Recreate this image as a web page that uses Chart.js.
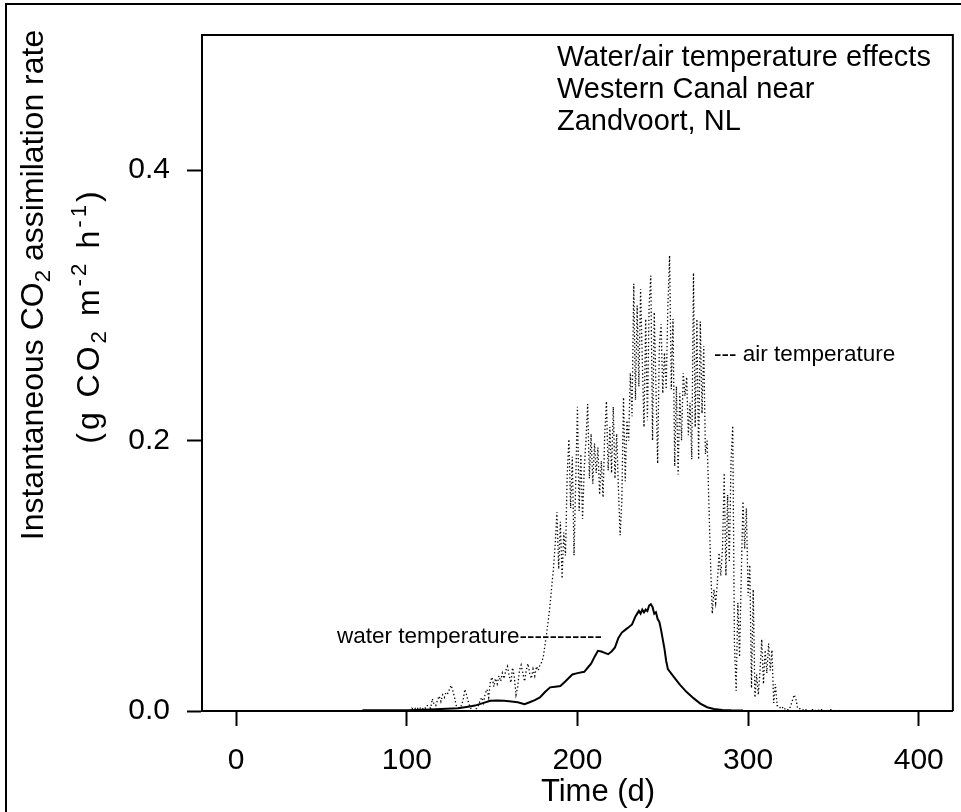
<!DOCTYPE html>
<html>
<head>
<meta charset="utf-8">
<script src="https://cdn.jsdelivr.net/npm/chart.js@4.4.1/dist/chart.umd.min.js"></script>
<style>
    html, body { margin: 0; padding: 0; background: #fff; }
    #wrap { width: 961px; height: 812px; }
</style>
</head>
<body>
<div id="wrap"><canvas id="myChart" width="961" height="812"></canvas></div>
<script>
"use strict";

const xTicks = [0, 100, 200, 300, 400];
const yTicks = [0, 0.2, 0.4];

// air temperature run: one value per day, starting at day 100
const airStartDay = 100;
const airValues = [
    0.000, 0.001, 0.000, 0.002, 0.001, 0.002, 0.001, 0.003, 0.002, 0.001,
    0.003, 0.002, 0.004, 0.003, 0.002, 0.009, 0.005, 0.004, 0.008, 0.011,
    0.007, 0.012, 0.010, 0.014, 0.013, 0.016, 0.019, 0.015, 0.010, 0.004,
    0.003, 0.002, 0.004, 0.008, 0.016, 0.012, 0.007, 0.003, 0.001, 0.000,
    0.001, 0.002, 0.004, 0.008, 0.010, 0.006, 0.013, 0.016, 0.010, 0.022,
    0.025, 0.018, 0.024, 0.020, 0.026, 0.022, 0.028, 0.024, 0.030, 0.033,
    0.026, 0.021, 0.032, 0.025, 0.012, 0.018, 0.030, 0.034, 0.028, 0.022,
    0.030, 0.035, 0.028, 0.024, 0.031, 0.026, 0.033, 0.030, 0.034, 0.036,
    0.040, 0.049, 0.058, 0.068, 0.079, 0.093, 0.106, 0.124, 0.147, 0.105,
    0.140, 0.098, 0.132, 0.115, 0.175, 0.201, 0.150, 0.188, 0.115, 0.170,
    0.225, 0.148, 0.190, 0.142, 0.180, 0.200, 0.227, 0.172, 0.205, 0.168,
    0.198, 0.176, 0.195, 0.160, 0.185, 0.158, 0.205, 0.229, 0.178, 0.210,
    0.176, 0.225, 0.172, 0.205, 0.165, 0.130, 0.155, 0.232, 0.170, 0.215,
    0.200, 0.250, 0.218, 0.316, 0.230, 0.300, 0.240, 0.312, 0.260, 0.210,
    0.290, 0.215, 0.300, 0.322, 0.200, 0.295, 0.240, 0.183, 0.270, 0.286,
    0.235, 0.265, 0.238, 0.300, 0.337, 0.238, 0.290, 0.181, 0.240, 0.175,
    0.235, 0.200, 0.250, 0.233, 0.247, 0.204, 0.228, 0.186, 0.324, 0.210,
    0.290, 0.186, 0.288, 0.220, 0.270, 0.190, 0.200, 0.155, 0.110, 0.072,
    0.090, 0.080, 0.095, 0.117, 0.100, 0.120, 0.176, 0.100, 0.160, 0.110,
    0.185, 0.211, 0.050, 0.015, 0.080, 0.040, 0.100, 0.155, 0.120, 0.150,
    0.085, 0.108, 0.017, 0.090, 0.010, 0.027, 0.012, 0.030, 0.053, 0.020,
    0.045, 0.028, 0.050, 0.030, 0.045, 0.006, 0.020, 0.004, 0.004, 0.002,
    0.003, 0.001, 0.002, 0.001, 0.001, 0.004, 0.008, 0.012, 0.009, 0.002,
    0.002, 0.001, 0.001, 0.000, 0.001, 0.001, 0.000, 0.001, 0.001, 0.000,
    0.001, 0.001, 0.000, 0.001, 0.001, 0.000, 0.001, 0.000, 0.001, 0.001,
    0.000, 0.001, 0.000, 0.001, 0.000, 0.000
];

// water temperature run
const waterDays = [
    74, 85, 92, 100, 110, 120, 130, 135, 140, 145, 149, 153, 157, 160, 165,
    169, 172, 175, 178, 181, 184, 187, 190, 193, 197, 200, 204, 206, 208, 210,
    212, 214, 216, 218, 220, 222, 224, 226, 228, 230, 232, 234, 235, 236, 237,
    238, 239, 240, 241, 242, 243, 244, 245, 246, 247, 248, 249, 250, 251, 252,
    253, 256, 260, 264, 268, 272, 276, 280, 285, 290, 297
];
const waterValues = [
    0.0005, 0.0005, 0.0005, 0.0005, 0.001, 0.0015, 0.002, 0.003, 0.004, 0.006, 0.0075, 0.0078, 0.0075, 0.0072, 0.0065,
    0.005, 0.0065, 0.008, 0.010, 0.014, 0.0175, 0.018, 0.0185, 0.022, 0.027, 0.028, 0.029, 0.032, 0.035, 0.040,
    0.0445, 0.044, 0.043, 0.042, 0.044, 0.047, 0.054, 0.058, 0.060, 0.062, 0.064, 0.070, 0.072, 0.074, 0.072,
    0.075, 0.073, 0.075, 0.074, 0.078, 0.079, 0.077, 0.072, 0.073, 0.068, 0.066, 0.060, 0.053, 0.046, 0.037,
    0.031, 0.026, 0.0195, 0.014, 0.0095, 0.0055, 0.0028, 0.0015, 0.0008, 0.0005, 0.0003
];

const noteLines = ["Water/air temperature effects", "Western Canal near", "Zandvoort, NL"];
const airLabel = "--- air temperature";
const waterLabel = "water temperature-----------";

const FONT = '"Liberation Sans", Arial, Helvetica, sans-serif';

// text with sub/superscript pieces: [text, 'n' | 'sub' | 'sup']
function partsWidth(ctx, parts, size) {
    let w = 0;
    for (const [txt, kind] of parts) {
        ctx.font = `${kind === 'n' ? size : size * 0.7}px ${FONT}`;
        w += ctx.measureText(txt).width;
    }
    return w;
}

function drawParts(ctx, parts, x, y, size) {
    let cx = x;
    for (const [txt, kind] of parts) {
        const s = kind === 'n' ? size : size * 0.7;
        const dy = kind === 'sub' ? size * 0.22 : (kind === 'sup' ? -size * 0.42 : 0);
        ctx.font = `${s}px ${FONT}`;
        ctx.fillText(txt, cx, y + dy);
        cx += ctx.measureText(txt).width;
    }
}

const decorPlugin = {
    id: 'decor',
    afterDraw(chart) {
        const ctx = chart.ctx;
        const area = chart.chartArea;
        ctx.save();
        ctx.strokeStyle = '#000';
        ctx.fillStyle = '#000';

        // outer frame (left and top edges visible)
        ctx.lineWidth = 2;
        ctx.beginPath();
        ctx.moveTo(6, 812);
        ctx.lineTo(6, 4);
        ctx.lineTo(961, 4);
        ctx.stroke();

        // close the plot box
        ctx.beginPath();
        ctx.moveTo(area.left, area.top);
        ctx.lineTo(area.right, area.top);
        ctx.lineTo(area.right, area.bottom);
        ctx.stroke();

        ctx.textBaseline = 'alphabetic';
        ctx.textAlign = 'left';

        // note in the top right corner
        ctx.font = `29px ${FONT}`;
        noteLines.forEach((line, i) => ctx.fillText(line, 557, 66 + i * 32));

        // series labels
        ctx.font = `22.5px ${FONT}`;
        ctx.fillText(airLabel, 714, 361);
        ctx.fillText(waterLabel, 337, 643);

        // x axis title
        ctx.font = `31px ${FONT}`;
        ctx.textAlign = 'center';
        ctx.fillText('Time (d)', 598, 801);
        ctx.textAlign = 'left';

        // y axis title, two rotated lines
        const line1 = [['Instantaneous CO', 'n'], ['2', 'sub'], [' assimilation rate', 'n']];
        const line2 = [['(g CO', 'n'], ['2', 'sub'], [' m', 'n'], ['-2', 'sup'], [' h', 'n'], ['-1', 'sup'], [')', 'n']];
        ctx.save();
        ctx.translate(43, 285);
        ctx.rotate(-Math.PI / 2);
        drawParts(ctx, line1, -partsWidth(ctx, line1, 32) / 2, 0, 32);
        ctx.restore();
        ctx.save();
        ctx.translate(99, 316);
        ctx.rotate(-Math.PI / 2);
        ctx.letterSpacing = '3px';
        drawParts(ctx, line2, -(partsWidth(ctx, line2, 32)) / 2, 0, 32);
        ctx.restore();

        ctx.restore();
    }
};

function CreateChart() {
    const airPoints = airValues.map((v, i) => ({ x: airStartDay + i, y: v }));
    const waterPoints = waterDays.map((d, i) => ({ x: d, y: waterValues[i] }));

    const ctx = document.getElementById('myChart').getContext('2d');
    const axisGrid = {
        display: true,
        drawOnChartArea: false,
        drawTicks: true,
        tickLength: 15,
        tickWidth: 2,
        tickColor: '#000'
    };
    const myChart = new Chart(ctx, {
        type: 'line',
        data: {
            datasets: [{
                label: 'air temperature',
                data: airPoints,
                borderColor: '#000',
                borderWidth: 1.3,
                borderDash: [1.3, 2.4],
                pointRadius: 0,
                tension: 0,
                fill: false
            }, {
                label: 'water temperature',
                data: waterPoints,
                borderColor: '#000',
                borderWidth: 2,
                pointRadius: 0,
                tension: 0,
                fill: false
            }]
        },
        options: {
            responsive: false,
            animation: false,
            devicePixelRatio: 1,
            layout: { padding: { left: 0, top: 28, right: 5, bottom: 0 } },
            plugins: {
                legend: { display: false },
                tooltip: { enabled: false }
            },
            scales: {
                x: {
                    type: 'linear',
                    min: -20,
                    max: 420,
                    grid: axisGrid,
                    border: { display: true, color: '#000', width: 2 },
                    afterBuildTicks: scale => { scale.ticks = xTicks.map(v => ({ value: v })); },
                    afterFit: scale => { scale.height = 101; },
                    ticks: {
                        color: '#000',
                        font: { family: FONT, size: 30 },
                        padding: 17,
                        maxRotation: 0,
                        callback: v => String(v)
                    }
                },
                y: {
                    type: 'linear',
                    min: 0,
                    max: 0.5,
                    grid: axisGrid,
                    border: { display: true, color: '#000', width: 2 },
                    afterBuildTicks: scale => { scale.ticks = yTicks.map(v => ({ value: v })); },
                    afterFit: scale => { scale.width = 202; },
                    ticks: {
                        color: '#000',
                        font: { family: FONT, size: 30 },
                        padding: 17,
                        callback: v => v.toFixed(1)
                    }
                }
            }
        },
        plugins: [decorPlugin]
    });
}

window.addEventListener('load', () => {
    CreateChart();
});
</script>
</body>
</html>
